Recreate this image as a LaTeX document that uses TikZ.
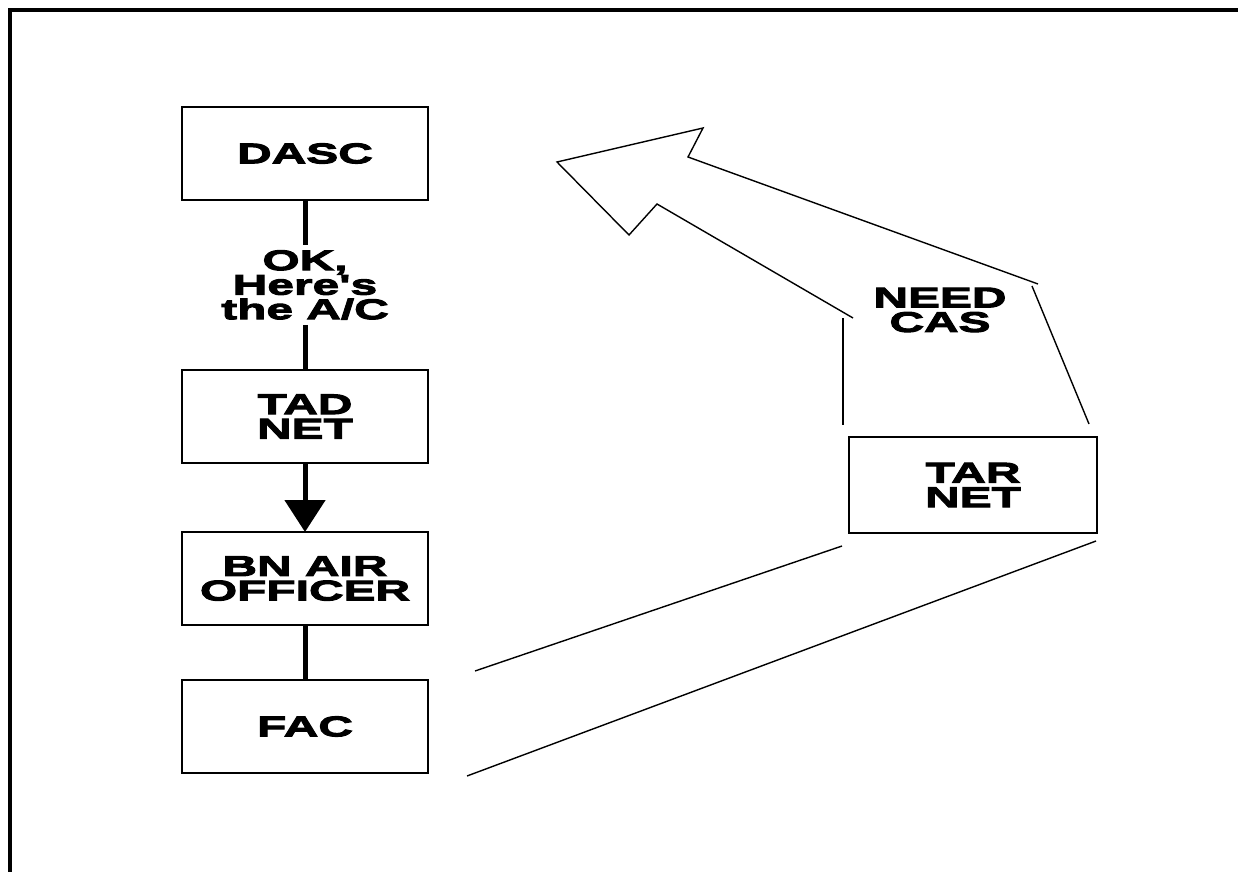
\documentclass[tikz,border=0pt]{standalone}
\usepackage{fontspec}
\newfontfamily\labelfont[FakeStretch=1.68, BoldFeatures={FakeBold=3.5}]{Liberation Sans}
\usepackage{tikz}
\usetikzlibrary{positioning, arrows.meta, calc}

\begin{document}
\begin{tikzpicture}[x=1pt, y=-1pt,
  every node/.style={font=\labelfont\bfseries\fontsize{28.5}{24.5}\selectfont, align=center},
  netbox/.style={draw, line width=2pt, minimum width=246pt, minimum height=93pt,
                 inner sep=0pt, outer sep=0pt},
  link/.style={line width=5pt},
  outline/.style={line width=1.4pt, line join=miter}]
  \useasboundingbox (0,0) rectangle (1238,872);

  % frame
  \draw[line width=4pt] (1238,10) -- (10,10) -- (10,872);

  % chain of boxes
  \node[netbox] (dasc) at (305,153.5) {DASC};
  \node[netbox, below=170pt of dasc] (tad) {TAD\\NET};
  \node[netbox, below=69pt of tad] (bnao) {BN AIR\\OFFICER};
  \node[netbox, below=55pt of bnao] (fac) {FAC};
  \node[inner sep=5pt] (okmsg) at ($(dasc.south)!0.5!(tad.north)$) {OK,\\Here's\\the A/C};

  \draw[link] (dasc.south) -- (okmsg.north);
  \draw[link] (okmsg.south) -- (tad.north);
  \draw[link, -{Triangle[width=40pt, length=32pt]}] (tad.south) -- (bnao.north);
  \draw[link] (bnao.south) -- (fac.north);

  % request side
  \node[netbox, minimum width=248pt, minimum height=96pt] (tarnet) at (973,485) {TAR\\NET};
  \node (needcas) at (940,310) {NEED\\CAS};

  % broken outline arrow
  \coordinate (tip) at (557,162);
  \draw[outline] (1038,284) -- (688,157) -- (703,128) -- (tip)
                 -- (629,235) -- (657,204) -- (853,318);
  \draw[outline] (843,318) -- (843,425);
  \draw[outline] (1032,286) -- (1089,424);
  \draw[outline] (842,546) -- (475,671);
  \draw[outline] (1096,541) -- (467,776);
\end{tikzpicture}
\end{document}
